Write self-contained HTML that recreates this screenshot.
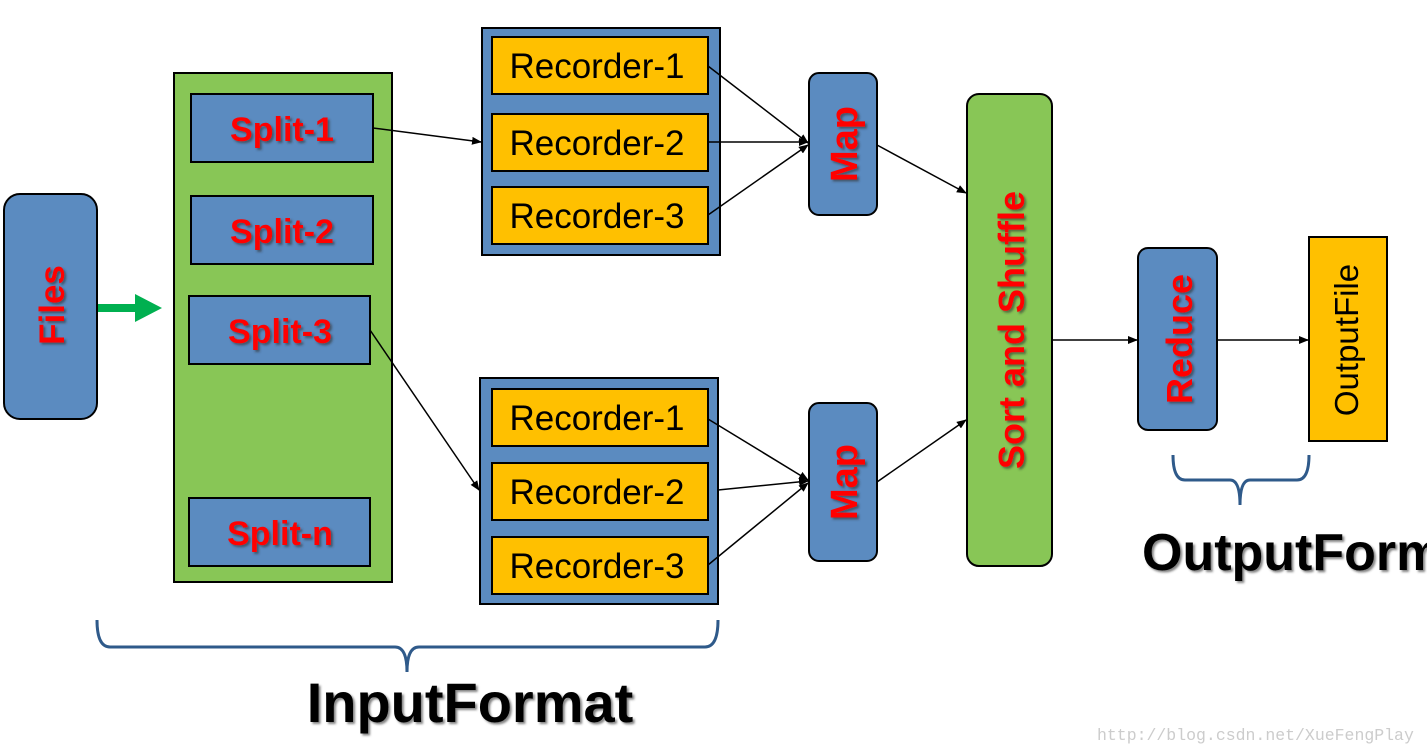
<!DOCTYPE html>
<html><head><style>body{margin:0;background:#fff}svg{display:block}</style></head><body>
<svg width="1427" height="752" viewBox="0 0 1427 752" xmlns="http://www.w3.org/2000/svg" font-family="Liberation Sans, sans-serif">
<defs>
<marker id="a" markerWidth="10" markerHeight="8" refX="9" refY="4" orient="auto" markerUnits="userSpaceOnUse"><path d="M0,0L10,4L0,8z" fill="#000"/></marker>
<filter id="s"><feDropShadow dx="2" dy="2" stdDeviation="1" flood-color="#333" flood-opacity="0.6"/></filter>
</defs>
<g stroke="#000" stroke-width="2">
<rect x="4" y="194" width="93" height="225" rx="16" fill="#5B8BC0"/>
<rect x="174" y="73" width="218" height="509" fill="#88C656"/>
<rect x="191" y="94" width="182" height="68" fill="#5B8BC0"/>
<rect x="191" y="196" width="182" height="68" fill="#5B8BC0"/>
<rect x="189" y="296" width="181" height="68" fill="#5B8BC0"/>
<rect x="189" y="498" width="181" height="68" fill="#5B8BC0"/>
<rect x="482" y="28" width="238" height="227" fill="#5B8BC0"/>
<rect x="492" y="37" width="216" height="57" fill="#FFC000"/>
<rect x="492" y="114" width="216" height="57" fill="#FFC000"/>
<rect x="492" y="187" width="216" height="57" fill="#FFC000"/>
<rect x="480" y="378" width="238" height="226" fill="#5B8BC0"/>
<rect x="492" y="389" width="216" height="57" fill="#FFC000"/>
<rect x="492" y="463" width="216" height="57" fill="#FFC000"/>
<rect x="492" y="537" width="216" height="57" fill="#FFC000"/>
<rect x="809" y="73" width="68" height="142" rx="10" fill="#5B8BC0"/>
<rect x="809" y="403" width="68" height="158" rx="10" fill="#5B8BC0"/>
<rect x="967" y="94" width="85" height="472" rx="12" fill="#88C656"/>
<rect x="1138" y="248" width="79" height="182" rx="10" fill="#5B8BC0"/>
<rect x="1309" y="237" width="78" height="204" fill="#FFC000"/>
</g>
<g stroke="#000" stroke-width="1.5" marker-end="url(#a)">
<line x1="373" y1="128" x2="481" y2="142"/>
<line x1="370" y1="330" x2="479" y2="490"/>
<line x1="708" y1="66" x2="808" y2="143"/>
<line x1="708" y1="142" x2="808" y2="142"/>
<line x1="708" y1="215" x2="808" y2="145"/>
<line x1="877" y1="145" x2="966" y2="193"/>
<line x1="708" y1="419" x2="808" y2="480"/>
<line x1="718" y1="490" x2="808" y2="481"/>
<line x1="708" y1="565" x2="808" y2="483"/>
<line x1="877" y1="482" x2="966" y2="420"/>
<line x1="1052" y1="340" x2="1137" y2="340"/>
<line x1="1217" y1="340" x2="1308" y2="340"/>
</g>
<path d="M98,308H140" stroke="#00B050" stroke-width="8"/>
<path d="M135,294L162,308L135,322z" fill="#00B050"/>
<g fill="#FF0000" font-weight="bold" font-size="34" text-anchor="middle" filter="url(#s)">
<text x="282" y="141">Split-1</text>
<text x="282" y="243">Split-2</text>
<text x="280" y="343">Split-3</text>
<text x="280" y="545">Split-n</text>
<text transform="translate(64,305) rotate(-90)" font-size="35">Files</text>
<text transform="translate(857,144) rotate(-90)" font-size="38">Map</text>
<text transform="translate(857,482) rotate(-90)" font-size="38">Map</text>
<text transform="translate(1024,330) rotate(-90)" font-size="36">Sort and Shuffle</text>
<text transform="translate(1192,339) rotate(-90)" font-size="36">Reduce</text>
</g>
<g font-size="35" text-anchor="middle" fill="#000">
<text x="597" y="78">Recorder-1</text>
<text x="597" y="155">Recorder-2</text>
<text x="597" y="228">Recorder-3</text>
<text x="597" y="430">Recorder-1</text>
<text x="597" y="504">Recorder-2</text>
<text x="597" y="578">Recorder-3</text>
<text transform="translate(1358,340) rotate(-90)" font-size="33">OutputFile</text>
</g>
<g fill="none" stroke="#2F5A8A" stroke-width="3">
<path d="M97,620Q97,647 110,647H395Q407,647 407,672Q407,647 419,647H705Q718,647 718,620"/>
<path d="M1173,455Q1173,480 1185,480H1230Q1240,480 1240,505Q1240,480 1250,480H1297Q1309,480 1309,455"/>
</g>
<text x="470" y="722" font-size="56" font-weight="bold" text-anchor="middle" fill="#000" filter="url(#s)">InputFormat</text>
<text x="1142" y="570" font-size="52" font-weight="bold" fill="#000" filter="url(#s)">OutputFormat</text>
<text x="1097" y="740" font-size="16.5" fill="#ccc" font-family="Liberation Mono, monospace">http://blog.csdn.net/XueFengPlay</text>
</svg>
</body></html>
